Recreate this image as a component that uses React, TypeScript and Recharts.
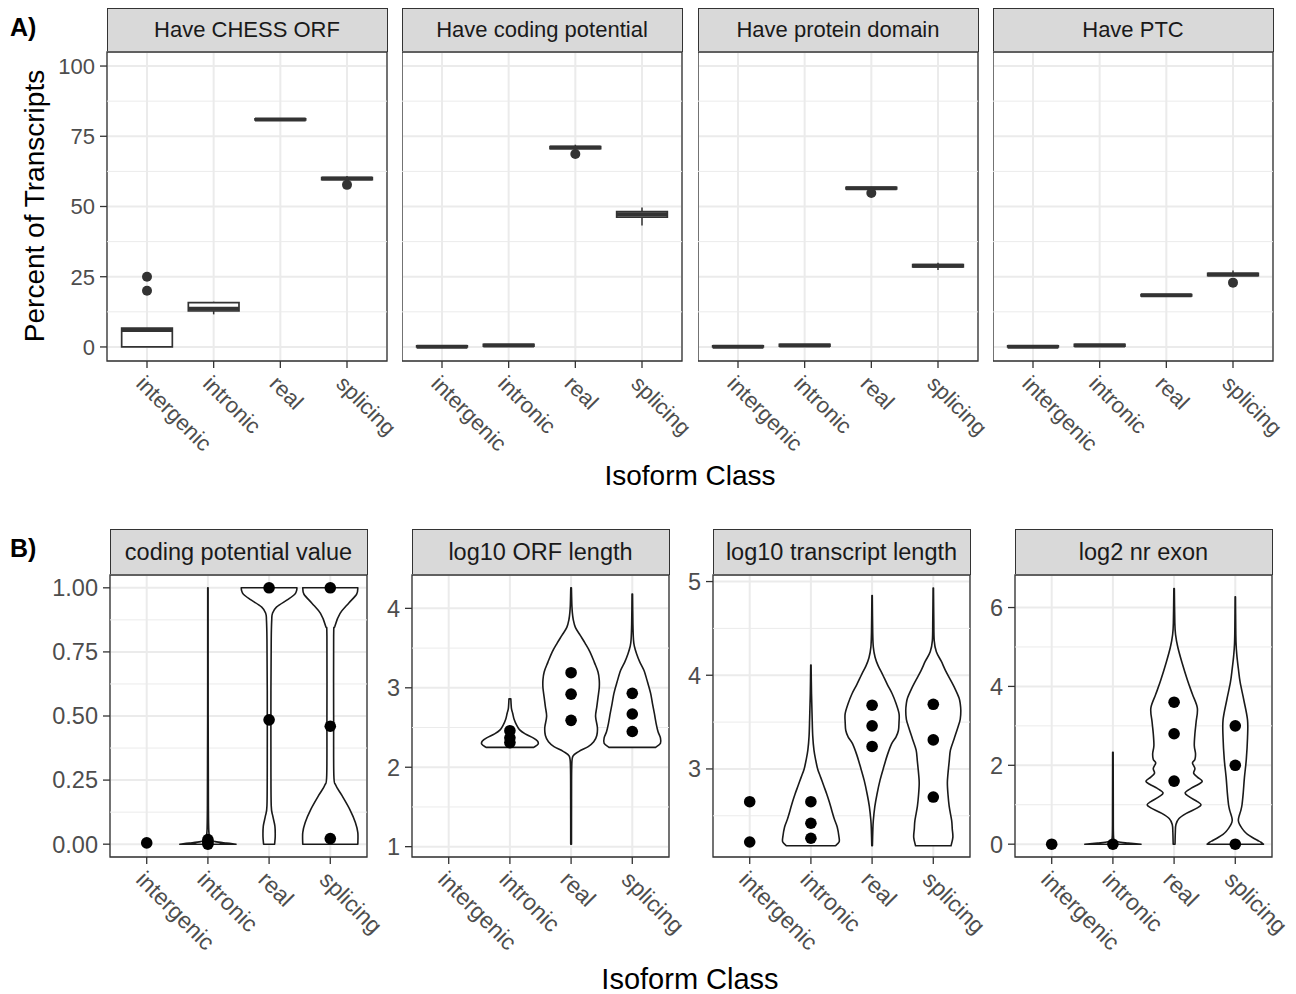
import React from 'react';
import { ComposedChart, Scatter, XAxis, YAxis, CartesianGrid, ReferenceLine, ReferenceArea } from 'recharts';

const FONT = '"Liberation Sans", Arial, Helvetica, sans-serif';

// ---------- shared categories ----------
const isoformClasses = ['intergenic', 'intronic', 'real', 'splicing'];

// ---------- Row A: box plots (percent of transcripts) ----------
const boxPanelTitles = ['Have CHESS ORF', 'Have coding potential', 'Have protein domain', 'Have PTC'];
const boxTicks = [0, 25, 50, 75, 100];
const boxMinorTicks = [12.5, 37.5, 62.5, 87.5];
// [lower whisker, q1, median, q3, upper whisker] for intergenic, intronic, real, splicing
const chessOrfBoxes = [
  [0, 0, 6, 6.7, 6.7],
  [11.6, 12.8, 13.6, 15.8, 16.1],
  [80.7, 80.8, 81, 81.2, 81.3],
  [59.3, 59.6, 60, 60.3, 60.9],
];
const codingPotentialBoxes = [
  [0, 0, 0.1, 0.4, 0.4],
  [0.2, 0.3, 0.5, 0.9, 0.9],
  [70.3, 70.6, 71, 71.3, 72],
  [43.2, 46.2, 47.2, 48.2, 49.6],
];
const proteinDomainBoxes = [
  [0, 0, 0.1, 0.4, 0.4],
  [0.2, 0.3, 0.5, 0.9, 0.9],
  [56.2, 56.3, 56.5, 56.8, 57.0],
  [27.4, 28.5, 28.9, 29.3, 30.0],
];
const ptcBoxes = [
  [0, 0, 0.1, 0.4, 0.4],
  [0.2, 0.3, 0.5, 0.9, 0.9],
  [18.1, 18.2, 18.4, 18.6, 18.7],
  [25.1, 25.4, 25.8, 26.2, 27.2],
];
// outliers per class
const chessOrfOutliers = [[25, 20], [], [], [57.7]];
const codingPotentialOutliers = [[], [], [68.7], []];
const proteinDomainOutliers = [[], [], [54.8], []];
const ptcOutliers = [[], [], [], [22.9]];

// ---------- Row B: violins ----------
const violinPanelTitles = ['coding potential value', 'log10 ORF length', 'log10 transcript length', 'log2 nr exon'];
// violin profiles: [value, half width] from bottom to top; null = no violin
const codingPotentialViolins = [
  null,
  [[0, 0.46], [0.004, 0.3], [0.01, 0.12], [0.02, 0.04], [0.05, 0.015], [0.15, 0.008], [0.5, 0.004], [1.0, 0.003]],
  [[0, 0.09], [0.03, 0.1], [0.07, 0.095], [0.11, 0.06], [0.15, 0.035], [0.3, 0.03], [0.6, 0.03], [0.8, 0.035], [0.875, 0.043], [0.9, 0.055], [0.925, 0.12], [0.955, 0.31], [0.975, 0.42], [0.99, 0.45], [1.0, 0.455]],
  [[0, 0.45], [0.045, 0.45], [0.085, 0.41], [0.135, 0.32], [0.19, 0.19], [0.23, 0.09], [0.27, 0.058], [0.5, 0.055], [0.81, 0.055], [0.85, 0.075], [0.9, 0.16], [0.94, 0.3], [0.975, 0.43], [1.0, 0.45]],
];
const orfLengthViolins = [
  null,
  [[2.25, 0.39], [2.29, 0.46], [2.33, 0.45], [2.37, 0.38], [2.42, 0.25], [2.47, 0.16], [2.53, 0.11], [2.6, 0.07], [2.68, 0.045], [2.74, 0.025], [2.86, 0.015]],
  [[1.03, 0.006], [1.6, 0.007], [2.0, 0.01], [2.14, 0.03], [2.2, 0.13], [2.26, 0.28], [2.32, 0.37], [2.4, 0.42], [2.5, 0.43], [2.64, 0.4], [2.76, 0.42], [2.88, 0.44], [3.0, 0.46], [3.1, 0.46], [3.2, 0.44], [3.32, 0.38], [3.45, 0.31], [3.56, 0.23], [3.66, 0.15], [3.76, 0.07], [3.86, 0.035], [3.95, 0.02], [4.05, 0.012], [4.26, 0.005]],
  [[2.25, 0.38], [2.3, 0.46], [2.37, 0.46], [2.45, 0.42], [2.55, 0.39], [2.68, 0.36], [2.8, 0.33], [2.93, 0.3], [3.07, 0.25], [3.22, 0.19], [3.33, 0.12], [3.43, 0.07], [3.52, 0.035], [3.6, 0.02], [3.8, 0.01], [4.18, 0.004]],
];
const transcriptLengthViolins = [
  null,
  [[2.18, 0.4], [2.22, 0.46], [2.27, 0.46], [2.38, 0.43], [2.47, 0.38], [2.56, 0.34], [2.65, 0.3], [2.73, 0.26], [2.82, 0.21], [2.91, 0.16], [3.0, 0.11], [3.09, 0.08], [3.2, 0.05], [3.35, 0.03], [3.55, 0.02], [3.8, 0.01], [4.11, 0.003]],
  [[2.18, 0.005], [2.35, 0.012], [2.45, 0.02], [2.6, 0.045], [2.73, 0.08], [2.88, 0.13], [3.02, 0.19], [3.15, 0.25], [3.27, 0.32], [3.34, 0.39], [3.41, 0.43], [3.5, 0.44], [3.59, 0.44], [3.7, 0.39], [3.8, 0.33], [3.9, 0.25], [4.01, 0.17], [4.1, 0.1], [4.19, 0.05], [4.3, 0.02], [4.45, 0.01], [4.85, 0.003]],
  [[2.18, 0.29], [2.27, 0.32], [2.36, 0.31], [2.45, 0.3], [2.6, 0.26], [2.73, 0.24], [2.85, 0.23], [2.95, 0.24], [3.08, 0.26], [3.2, 0.28], [3.32, 0.34], [3.44, 0.4], [3.53, 0.44], [3.62, 0.45], [3.7, 0.44], [3.76, 0.42], [3.85, 0.36], [3.94, 0.29], [4.05, 0.2], [4.15, 0.13], [4.25, 0.05], [4.37, 0.015], [4.6, 0.008], [4.93, 0.003]],
];
const exonCountViolins = [
  null,
  [[0, 0.46], [0.03, 0.25], [0.06, 0.08], [0.1, 0.02], [0.3, 0.008], [1.0, 0.006], [2.33, 0.004]],
  [[0, 0.015], [0.3, 0.02], [0.5, 0.03], [0.65, 0.08], [0.78, 0.2], [0.92, 0.38], [1.0, 0.44], [1.08, 0.38], [1.2, 0.25], [1.3, 0.18], [1.42, 0.28], [1.52, 0.4], [1.6, 0.46], [1.7, 0.38], [1.8, 0.32], [1.92, 0.34], [2.06, 0.3], [2.15, 0.34], [2.3, 0.35], [2.5, 0.33], [2.8, 0.34], [3.1, 0.36], [3.45, 0.38], [3.8, 0.3], [4.15, 0.22], [4.6, 0.13], [5.0, 0.06], [5.3, 0.025], [5.6, 0.012], [6.48, 0.004]],
  [[0, 0.46], [0.05, 0.42], [0.1, 0.36], [0.17, 0.28], [0.25, 0.2], [0.32, 0.15], [0.4, 0.11], [0.5, 0.07], [0.6, 0.05], [0.7, 0.06], [0.85, 0.09], [1.0, 0.11], [1.3, 0.13], [1.7, 0.15], [2.15, 0.18], [2.7, 0.2], [3.15, 0.2], [3.65, 0.14], [4.1, 0.08], [4.45, 0.05], [4.8, 0.025], [5.1, 0.012], [5.5, 0.007], [6.27, 0.003]],
];
// quantile dots per class
const codingPotentialDots = [[0.005], [0, 0.008, 0.018], [0.485, 1.0], [0.022, 0.46, 1.0]];
const orfLengthDots = [[], [2.31, 2.37, 2.46], [2.59, 2.92, 3.19], [2.45, 2.67, 2.93]];
const transcriptLengthDots = [[2.22, 2.65], [2.26, 2.42, 2.65], [3.24, 3.46, 3.68], [2.7, 3.31, 3.69]];
const exonCountDots = [[0], [0], [1.6, 2.8, 3.6], [0, 2.0, 3.0]];

const codingPotentialTicks = [0, 0.25, 0.5, 0.75, 1];
const codingPotentialMinor = [0.125, 0.375, 0.625, 0.875];
const orfLengthTicks = [1, 2, 3, 4];
const orfLengthMinor = [1.5, 2.5, 3.5];
const transcriptLengthTicks = [3, 4, 5];
const transcriptLengthMinor = [2.5, 3.5, 4.5];
const exonCountTicks = [0, 2, 4, 6];
const exonCountMinor = [1, 3, 5];

// ---------- layout ----------
const A_LEFTS = [107, 402, 698, 993];
const A_PW = 280;
const A_STRIP_TOP = 8;
const A_PLOT_TOP = 52;
const A_PH = 309;
const B_LEFTS = [110, 412, 713, 1015];
const B_PW = 257;
const B_STRIP_TOP = 529;
const B_PLOT_TOP = 575;
const B_PH = 282;
const XH = 110;
const TOP_PAD = 20;
const RIGHT_PAD = 40;
const X_DOMAIN: [number, number] = [0.4, 4.6];
const BOX_HALF = 0.38;

const boxPanels = [
  { stats: chessOrfBoxes, outliers: chessOrfOutliers },
  { stats: codingPotentialBoxes, outliers: codingPotentialOutliers },
  { stats: proteinDomainBoxes, outliers: proteinDomainOutliers },
  { stats: ptcBoxes, outliers: ptcOutliers },
];
const violinPanels = [
  { domain: [-0.05, 1.05], ticks: codingPotentialTicks, minor: codingPotentialMinor, fmt: (v: number) => v.toFixed(2), violins: codingPotentialViolins, dots: codingPotentialDots },
  { domain: [0.87, 4.42], ticks: orfLengthTicks, minor: orfLengthMinor, fmt: (v: number) => String(v), violins: orfLengthViolins, dots: orfLengthDots },
  { domain: [2.06, 5.07], ticks: transcriptLengthTicks, minor: transcriptLengthMinor, fmt: (v: number) => String(v), violins: transcriptLengthViolins, dots: transcriptLengthDots },
  { domain: [-0.325, 6.825], ticks: exonCountTicks, minor: exonCountMinor, fmt: (v: number) => String(v), violins: exonCountViolins, dots: exonCountDots },
];

// ---------- builders ----------
function boxPoints(ci: number, s: number[]) {
  const [lo, q1, med, q3, hi] = s;
  const c = ci + 1;
  return [
    { x: c - BOX_HALF, y: q1 }, { x: c + BOX_HALF, y: q1 }, { x: c + BOX_HALF, y: q3 }, { x: c - BOX_HALF, y: q3 },
    { x: c - BOX_HALF, y: med }, { x: c + BOX_HALF, y: med },
    { x: c, y: lo }, { x: c, y: q1 }, { x: c, y: q3 }, { x: c, y: hi },
  ];
}
function violinPoints(ci: number, profile: number[][]) {
  const c = ci + 1;
  const leftSide = profile.map(([v, hw]) => ({ x: c - hw, y: v }));
  const rightSide = profile.slice().reverse().map(([v, hw]) => ({ x: c + hw, y: v }));
  return [...leftSide, ...rightSide];
}
function dotPoints(dots: number[][]) {
  const out: { x: number; y: number }[] = [];
  dots.forEach((vals, ci) => vals.forEach((v) => out.push({ x: ci + 1, y: v })));
  return out;
}

const noDot = () => <g />;

function drawBox(p: any) {
  const pts = p.points;
  if (!pts || pts.length < 10) return <g />;
  const [a, b, c, d, m1, m2, w1, w2, w3, w4] = pts;
  return (
    <g>
      <line x1={w1.x} y1={w1.y} x2={w2.x} y2={w2.y} stroke="#333" strokeWidth={1.5} />
      <line x1={w3.x} y1={w3.y} x2={w4.x} y2={w4.y} stroke="#333" strokeWidth={1.5} />
      <path d={`M${a.x},${a.y}L${b.x},${b.y}L${c.x},${c.y}L${d.x},${d.y}Z`} fill="#fff" stroke="#333" strokeWidth={1.7} />
      <line x1={m1.x} y1={m1.y} x2={m2.x} y2={m2.y} stroke="#333" strokeWidth={4} />
    </g>
  );
}

function crPath(pts: { x: number; y: number }[]) {
  let d = '';
  for (let i = 0; i < pts.length - 1; i++) {
    const p0 = pts[i - 1] || pts[i];
    const p1 = pts[i];
    const p2 = pts[i + 1];
    const p3 = pts[i + 2] || p2;
    const c1x = p1.x + (p2.x - p0.x) / 6;
    const c1y = p1.y + (p2.y - p0.y) / 6;
    const c2x = p2.x - (p3.x - p1.x) / 6;
    const c2y = p2.y - (p3.y - p1.y) / 6;
    d += `C${c1x},${c1y},${c2x},${c2y},${p2.x},${p2.y}`;
  }
  return d;
}

function drawViolin(p: any) {
  const pts = p.points;
  if (!pts || pts.length < 4) return <g />;
  const half = pts.length / 2;
  const left = pts.slice(0, half);
  const right = pts.slice(half);
  const d = `M${left[0].x},${left[0].y}` + crPath(left) + `L${right[0].x},${right[0].y}` + crPath(right) + 'Z';
  return <path d={d} fill="#fff" stroke="#1a1a1a" strokeWidth={1.6} strokeLinejoin="round" />;
}

const outlierDot = (p: any) => <circle cx={p.cx} cy={p.cy} r={5} fill="#333" />;
const quantileDot = (p: any) => <circle cx={p.cx} cy={p.cy} r={5.8} fill="#000" />;

function makeRotTick(fontSize: number) {
  return function RotTick(props: any) {
    const { x, y, payload } = props;
    const label = isoformClasses[Math.round(payload.value) - 1] || '';
    const ax = x - 12;
    const ay = y + 15;
    return (
      <text x={ax} y={ay} transform={`rotate(45 ${ax} ${ay})`} fill="#4d4d4d" fontSize={fontSize} fontFamily={FONT} textAnchor="start">
        {label}
      </text>
    );
  };
}
const rotTickA = makeRotTick(22);
const rotTickB = makeRotTick(23);

function Strip({ left, top, width, height, label, fontSize }: { left: number; top: number; width: number; height: number; label: string; fontSize: number }) {
  return (
    <div
      style={{
        position: 'absolute', left: left - 0.5, top, width: width + 1, height: height + 0.5, boxSizing: 'border-box',
        border: '1.3px solid #333', background: '#d9d9d9', display: 'flex', alignItems: 'center', justifyContent: 'center',
        fontSize, color: '#1a1a1a', fontFamily: FONT, whiteSpace: 'nowrap',
      }}
    >
      {label}
    </div>
  );
}

const tickLineStyle = { stroke: '#333', strokeWidth: 1.3 };
const yTickStyleA = { fill: '#4d4d4d', fontSize: 22, fontFamily: FONT };
const yTickStyleB = { fill: '#4d4d4d', fontSize: 23.5, fontFamily: FONT };

function BoxPanel({ index }: { index: number }) {
  const left = A_LEFTS[index];
  const showY = index === 0;
  const yw = showY ? 100 : 0;
  const { stats, outliers } = boxPanels[index];
  const yDomain: [number, number] = [-5, 105];
  return (
    <>
      <Strip left={left} top={A_STRIP_TOP} width={A_PW} height={A_PLOT_TOP - A_STRIP_TOP} label={boxPanelTitles[index]} fontSize={22} />
      <div style={{ position: 'absolute', left: left - yw, top: A_PLOT_TOP - TOP_PAD }}>
        <ComposedChart width={yw + A_PW + RIGHT_PAD} height={A_PH + TOP_PAD + XH} margin={{ top: TOP_PAD, right: RIGHT_PAD, bottom: 0, left: 0 }}>
          {boxMinorTicks.map((v) => (
            <ReferenceLine key={'m' + v} y={v} stroke="#ebebeb" strokeWidth={1} />
          ))}
          <CartesianGrid stroke="#ebebeb" strokeWidth={2} />
          <XAxis type="number" dataKey="x" domain={X_DOMAIN} ticks={[1, 2, 3, 4]} interval={0} allowDataOverflow height={XH}
            axisLine={false} tickLine={tickLineStyle} tickSize={7} tick={rotTickA} />
          <YAxis type="number" dataKey="y" domain={yDomain} ticks={boxTicks} interval={0} allowDataOverflow hide={!showY} width={yw}
            axisLine={false} tickLine={tickLineStyle} tickSize={7} tickMargin={5} tick={yTickStyleA} />
          {stats.map((s, j) => (
            <Scatter key={'b' + j} data={boxPoints(j, s)} line={drawBox} shape={noDot} isAnimationActive={false} />
          ))}
          <Scatter data={dotPoints(outliers)} shape={outlierDot} isAnimationActive={false} />
          <ReferenceArea x1={X_DOMAIN[0]} x2={X_DOMAIN[1]} y1={yDomain[0]} y2={yDomain[1]} fill="none" fillOpacity={0} stroke="#333" strokeWidth={1.3} />
        </ComposedChart>
      </div>
    </>
  );
}

function ViolinPanel({ index }: { index: number }) {
  const left = B_LEFTS[index];
  const yw = 100;
  const cfg = violinPanels[index];
  const yDomain = cfg.domain as [number, number];
  return (
    <>
      <Strip left={left} top={B_STRIP_TOP} width={B_PW} height={B_PLOT_TOP - B_STRIP_TOP} label={violinPanelTitles[index]} fontSize={23.5} />
      <div style={{ position: 'absolute', left: left - yw, top: B_PLOT_TOP - TOP_PAD }}>
        <ComposedChart width={yw + B_PW + RIGHT_PAD} height={B_PH + TOP_PAD + XH} margin={{ top: TOP_PAD, right: RIGHT_PAD, bottom: 0, left: 0 }}>
          {cfg.minor.map((v) => (
            <ReferenceLine key={'m' + v} y={v} stroke="#ebebeb" strokeWidth={1} />
          ))}
          <CartesianGrid stroke="#ebebeb" strokeWidth={2} />
          <XAxis type="number" dataKey="x" domain={X_DOMAIN} ticks={[1, 2, 3, 4]} interval={0} allowDataOverflow height={XH}
            axisLine={false} tickLine={tickLineStyle} tickSize={7} tick={rotTickB} />
          <YAxis type="number" dataKey="y" domain={yDomain} ticks={cfg.ticks} interval={0} allowDataOverflow width={yw}
            axisLine={false} tickLine={tickLineStyle} tickSize={7} tickMargin={5} tick={yTickStyleB} tickFormatter={cfg.fmt} />
          {cfg.violins.map((prof, j) =>
            prof ? <Scatter key={'v' + j} data={violinPoints(j, prof)} line={drawViolin} shape={noDot} isAnimationActive={false} /> : null
          )}
          <Scatter data={dotPoints(cfg.dots)} shape={quantileDot} isAnimationActive={false} />
          <ReferenceArea x1={X_DOMAIN[0]} x2={X_DOMAIN[1]} y1={yDomain[0]} y2={yDomain[1]} fill="none" fillOpacity={0} stroke="#333" strokeWidth={1.3} />
        </ComposedChart>
      </div>
    </>
  );
}

export default function App() {
  return (
    <div style={{ position: 'absolute', left: 0, top: 0, width: 1296, height: 994, background: '#fff', fontFamily: FONT, overflow: 'hidden' }}>
      {[0, 1, 2, 3].map((i) => <BoxPanel key={'a' + i} index={i} />)}
      {[0, 1, 2, 3].map((i) => <ViolinPanel key={'b' + i} index={i} />)}
      <div style={{ position: 'absolute', left: 10, top: 14, fontSize: 25, fontWeight: 'bold', lineHeight: '26px', fontFamily: FONT }}>A)</div>
      <div style={{ position: 'absolute', left: 10, top: 535, fontSize: 25, fontWeight: 'bold', lineHeight: '26px', fontFamily: FONT }}>B)</div>
      <div style={{ position: 'absolute', left: 390, width: 600, top: 461, textAlign: 'center', fontSize: 28, lineHeight: '30px', color: '#000' }}>Isoform Class</div>
      <div style={{ position: 'absolute', left: 390, width: 600, top: 964, textAlign: 'center', fontSize: 29, lineHeight: '30px', color: '#000' }}>Isoform Class</div>
      <div style={{ position: 'absolute', left: 35 - 200, top: 206 - 15, width: 400, height: 30, lineHeight: '30px', textAlign: 'center', fontSize: 28, color: '#000', transform: 'rotate(-90deg)' }}>Percent of Transcripts</div>
    </div>
  );
}
